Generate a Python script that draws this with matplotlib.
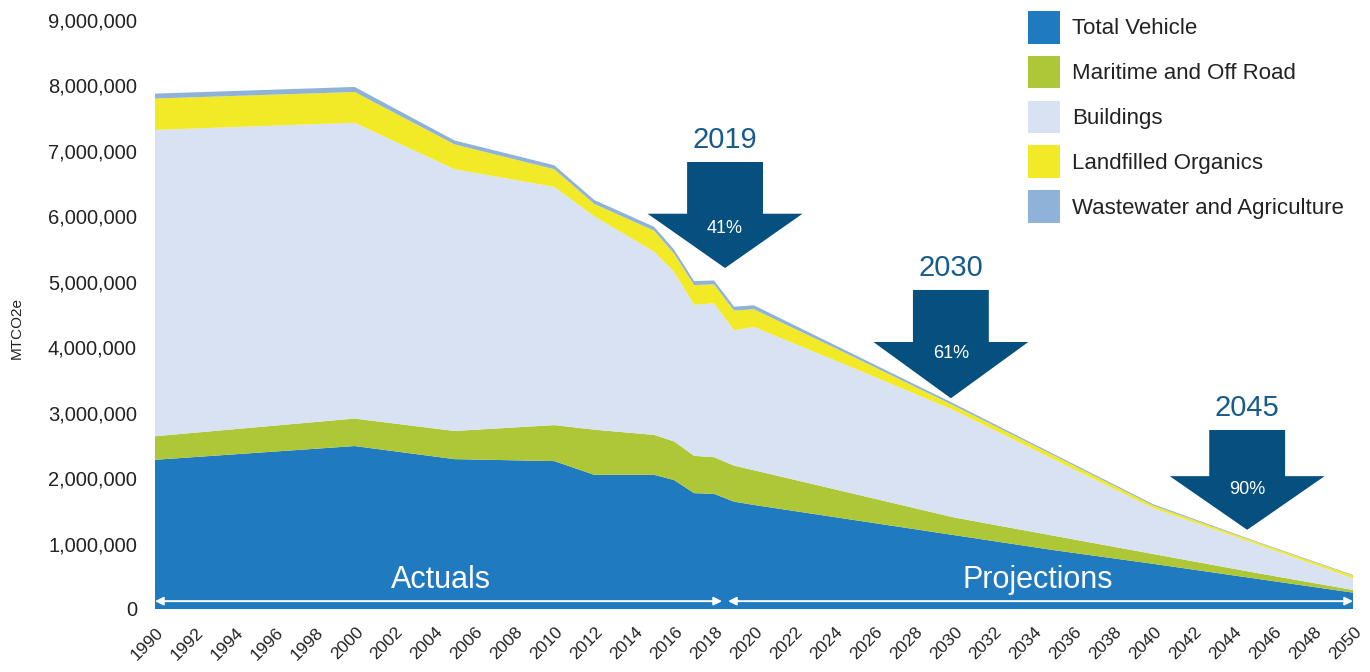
import matplotlib
matplotlib.use('Agg')
import matplotlib.pyplot as plt
from matplotlib.patches import Polygon, Patch
import matplotlib.transforms as mtransforms

plt.rcParams['font.family'] = ['Liberation Sans', 'DejaVu Sans']

# ---- data (million tonnes CO2e) ----
years = [1990, 2000, 2005, 2010, 2012, 2015, 2016, 2017, 2018, 2019, 2020,
         2025, 2030, 2035, 2040, 2045, 2050]
vehicle = [2.28, 2.49, 2.29, 2.26, 2.05, 2.05, 1.97, 1.77, 1.76, 1.64, 1.59,
           1.36, 1.13, 0.90, 0.69, 0.47, 0.25]
maritime = [0.36, 0.42, 0.43, 0.55, 0.69, 0.61, 0.59, 0.57, 0.56, 0.55, 0.53,
            0.40, 0.27, 0.22, 0.15, 0.09, 0.04]
buildings = [4.68, 4.52, 4.00, 3.64, 3.26, 2.80, 2.59, 2.31, 2.35, 2.07, 2.19,
             1.92, 1.64, 1.17, 0.70, 0.45, 0.18]
landfill = [0.48, 0.47, 0.38, 0.27, 0.19, 0.32, 0.28, 0.30, 0.29, 0.30, 0.27,
            0.17, 0.07, 0.06, 0.04, 0.03, 0.04]
wastewater = [0.075, 0.077, 0.06, 0.06, 0.06, 0.06, 0.06, 0.06, 0.06, 0.06, 0.06,
              0.04, 0.03, 0.02, 0.02, 0.01, 0.01]

series_labels = ['Total Vehicle', 'Maritime and Off Road', 'Buildings',
                 'Landfilled Organics', 'Wastewater and Agriculture']
series_colors = ['#1f7ac0', '#adc736', '#d8e2f2', '#f2ea26', '#8fb2d9']

tick_years = list(range(1990, 2051, 2))
y_ticks = list(range(0, 9000001, 1000000))

target_years = ['2019', '2030', '2045']
target_pcts = ['41%', '61%', '90%']

SCALE = 1e6
series = [[v * SCALE for v in s] for s in (vehicle, maritime, buildings, landfill, wastewater)]

fig = plt.figure(figsize=(13.7, 6.72), dpi=100)
W, H = 1370, 672
ax = fig.add_axes([155 / W, 1 - 609 / H, (1353 - 155) / W, (609 - 20) / H])

ax.stackplot(years, *series, colors=series_colors, linewidth=0)
ax.set_xlim(1990, 2050)
ax.set_ylim(0, 9e6)
for sp in ax.spines.values():
    sp.set_visible(False)

ax.set_yticks(y_ticks)
ax.set_yticklabels([f'{v:,}' for v in y_ticks], fontsize=14.5, color='#222222')
ax.set_xticks(tick_years)
ax.set_xticklabels([str(y) for y in tick_years], fontsize=12.5, color='#222222',
                   rotation=45, ha='right', va='center', rotation_mode='anchor')
ax.tick_params(axis='y', length=0, pad=13)
ax.tick_params(axis='x', length=0, pad=15)
offset = mtransforms.ScaledTranslation(6 / 100, 0, fig.dpi_scale_trans)
for lbl in ax.get_xticklabels():
    lbl.set_transform(lbl.get_transform() + offset)

fig.text(17 / W, 1 - 328 / H, 'MTCO2e', rotation=90, ha='center', va='center',
         fontsize=11, color='#222222')

# Actuals / Projections spans
y_line = 0.12e6
for x0, x1 in ((1990, 2018.4), (2018.7, 2050)):
    ax.annotate('', xy=(x1, y_line), xytext=(x0, y_line),
                arrowprops=dict(arrowstyle='<|-|>', color='white', lw=1.4,
                                shrinkA=0, shrinkB=0, mutation_scale=12))
ax.text(2004.3, 0.44e6, 'Actuals', color='white', fontsize=22, ha='center', va='center')
ax.text(2034.2, 0.44e6, 'Projections', color='white', fontsize=22, ha='center', va='center')

# target arrows
arrow_color = '#06507f'
arrow_specs = [  # xc, top, head base, tip, label y, pct y (layout)
    (2018.55, 6.83e6, 6.04e6, 5.21e6, 7.17e6, 5.82e6),
    (2029.86, 4.875e6, 4.08e6, 3.22e6, 5.21e6, 3.90e6),
    (2044.70, 2.735e6, 2.03e6, 1.21e6, 3.07e6, 1.82e6),
]
shaft_hw, head_hw = 1.9, 3.88
for (xc, yt, yb, ytip, ylab, ypct), yr, pct in zip(arrow_specs, target_years, target_pcts):
    pts = [(xc - shaft_hw, yt), (xc + shaft_hw, yt), (xc + shaft_hw, yb),
           (xc + head_hw, yb), (xc, ytip), (xc - head_hw, yb), (xc - shaft_hw, yb)]
    ax.add_patch(Polygon(pts, closed=True, facecolor=arrow_color, edgecolor='none', zorder=5))
    ax.text(xc, ylab, yr, color='#175b8b', fontsize=21, ha='center', va='center', zorder=6)
    ax.text(xc, ypct, pct, color='white', fontsize=13, ha='center', va='center', zorder=6)

handles = [Patch(facecolor=c, edgecolor='none') for c in series_colors]
fig.legend(handles, series_labels, loc='upper left',
           bbox_to_anchor=(1028 / W, 1 - 11 / H), frameon=False,
           fontsize=16, handlelength=1.45, handleheight=1.88,
           handletextpad=0.55, labelspacing=0.55, borderpad=0, borderaxespad=0,
           labelcolor='#222222')

fig.savefig('out.png', dpi=100, facecolor='white')
